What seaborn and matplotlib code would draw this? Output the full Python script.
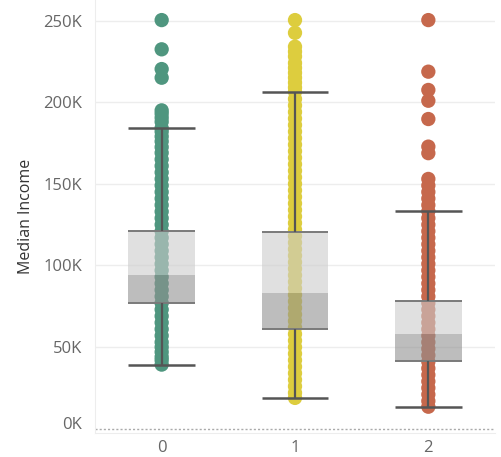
import numpy as np
import pandas as pd
import matplotlib
matplotlib.use("Agg")
import matplotlib.pyplot as plt
import matplotlib.transforms as mtransforms
import seaborn as sns

# cluster labels
clusters = ["0", "1", "2"]

# median income (K) per point
income_0 = [39.3, 42, 44, 47, 50, 53, 57, 61, 65, 69, 73, 77, 81, 85, 89, 93, 97,
            101, 105, 109, 113, 117, 121, 125, 129, 133, 137, 141, 145, 149, 153,
            157, 161, 165, 169, 172.5, 176, 179, 182, 184.2, 188, 190.5, 193, 195,
            215, 220.3, 232.4, 250.3]
income_1 = [18.9, 22, 26, 30, 34, 38, 42, 46, 50, 54, 58, 62, 66, 70, 74, 78, 82,
            86, 90, 94, 98, 102, 106, 110, 114, 118, 122, 126, 130, 134, 138, 142,
            146, 150, 154, 158, 162, 166, 170, 174, 178, 182, 186, 190, 194, 198,
            202, 206.4, 209, 212, 215, 218, 221, 224, 228, 231, 234, 242.5, 250.3]
income_2 = [13.5, 17, 21, 25, 29, 33, 37, 41, 45, 49, 53, 57, 61, 65, 69, 73, 77,
            81, 85, 89, 93, 97, 101, 105, 109, 113, 117, 121, 125, 129, 133.2, 137,
            141, 145, 149, 153, 168.8, 172.8, 189.7, 200.9, 207.5, 218.7, 250.3]

# box statistics (K)
q1 = [77.0, 61.3, 41.7]
median = [94.4, 83.2, 58.2]
q3 = [121.1, 120.7, 78.4]
whisker_lo = [39.3, 18.9, 13.5]
whisker_hi = [184.2, 206.4, 133.2]

yticks = [0, 50, 100, 150, 200, 250]
ytick_labels = ["0K", "50K", "100K", "150K", "200K", "250K"]

colors = ["#4f967f", "#ddcd3e", "#c6684c"]

df = pd.DataFrame({
    "cluster": ["0"] * len(income_0) + ["1"] * len(income_1) + ["2"] * len(income_2),
    "income": income_0 + income_1 + income_2,
})

sns.set_style("white")
plt.rcParams["font.family"] = ["Open Sans", "DejaVu Sans"]

fig = plt.figure(figsize=(5.02, 4.57), dpi=100)
ax = fig.add_axes([95 / 502, 24 / 457, 400 / 502, 433 / 457])

# grid lines
for t in yticks[1:]:
    ax.axhline(t, color="#ededed", lw=1, zorder=0)
ax.axhline(0, color="#aaaaaa", lw=1, ls=(0, (1.5, 1.5)), zorder=0)

sns.stripplot(data=df, x="cluster", y="income", hue="cluster", order=clusters,
              palette=colors, jitter=False, size=10.3, linewidth=0,
              legend=False, ax=ax, zorder=2)

x = np.arange(len(clusters))
w = 0.5
q1a, meda, q3a = np.array(q1), np.array(median), np.array(q3)
ax.bar(x, q3a - meda, bottom=meda, width=w, color="#cccccc", alpha=0.6,
       lw=0, zorder=3)
ax.bar(x, meda - q1a, bottom=q1a, width=w, color="#919191", alpha=0.6,
       lw=0, zorder=3)
ax.hlines(q1 + q3, np.tile(x - w / 2, 2), np.tile(x + w / 2, 2),
          color="#7a7a7a", lw=1.4, zorder=4)
ax.vlines(x, whisker_lo, q1, color="#555555", lw=1.6, zorder=4)
ax.vlines(x, q3, whisker_hi, color="#555555", lw=1.6, zorder=4)
ax.hlines(whisker_lo + whisker_hi, np.tile(x - w / 2, 2), np.tile(x + w / 2, 2),
          color="#555555", lw=1.8, zorder=4)

ax.set_xlim(-0.5, 2.5)
ax.set_ylim(-2.6, 262.6)
ax.set_yticks(yticks)
ax.set_yticklabels(ytick_labels)
ax.set_xticks(x)
ax.set_xticklabels(clusters)
ax.set_xticks([-0.5, 0.5, 1.5, 2.5], minor=True)
ax.tick_params(axis="x", which="major", length=0, pad=5, labelsize=12,
               labelcolor="#666666")
ax.tick_params(axis="x", which="minor", length=5, color="#e3e3e3", width=1)
ax.tick_params(axis="y", length=6, color="#e3e3e3", width=1, pad=3,
               labelsize=12, labelcolor="#666666")
ax.set_xlabel("")
ax.set_ylabel("Median Income", fontsize=11.5, color="#333333", labelpad=7)

# the 0K label sits a little above its line
lab0 = ax.get_yticklabels()[0]
lab0.set_transform(lab0.get_transform() +
                   mtransforms.ScaledTranslation(0, 6 / 100, fig.dpi_scale_trans))

for s in ["top", "right"]:
    ax.spines[s].set_visible(False)
ax.spines["left"].set_color("#ededed")
ax.spines["bottom"].set_color("#ededed")

fig.savefig("out.png", dpi=100)
